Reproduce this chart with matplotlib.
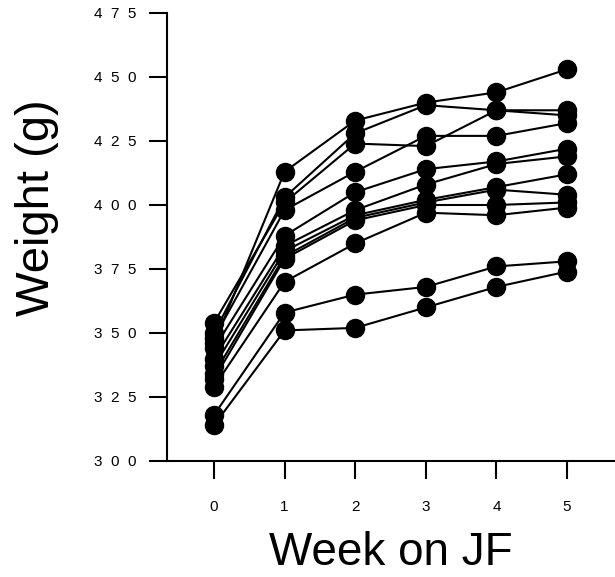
import matplotlib
matplotlib.use("Agg")
import matplotlib.pyplot as plt

# %% data
weeks = [0, 1, 2, 3, 4, 5]
rat_weights = [
    [346, 413, 433, 440, 444, 453],
    [350, 403, 428, 439, 437, 437],
    [354, 401, 424, 423, 437, 435],
    [348, 398, 413, 427, 427, 432],
    [344, 388, 405, 414, 417, 422],
    [340, 384, 398, 408, 416, 419],
    [337, 382, 396, 402, 407, 412],
    [334, 380, 395, 401, 406, 404],
    [332, 379, 394, 400, 400, 401],
    [329, 370, 385, 397, 396, 399],
    [318, 358, 365, 368, 376, 378],
    [314, 351, 352, 360, 368, 374],
]
y_ticks = [300, 325, 350, 375, 400, 425, 450, 475]
y_ticklabels = ["  ".join(str(t)) for t in y_ticks]

# %% plot
plt.rcParams["font.family"] = ["Liberation Sans", "DejaVu Sans"]

fig = plt.figure(figsize=(6.15, 5.77), dpi=100)
ax = fig.add_axes([167/615, (577-461)/577, (615-167)/615, (461-13)/577])

for w in rat_weights:
    ax.plot(weeks, w, color="black", lw=1.5, marker="o", ms=13,
            mfc="black", mec="black", clip_on=False, zorder=3)

ax.set_xlim(-0.666, 5.68)
ax.set_ylim(300, 475)

ax.set_xticks(weeks)
ax.set_xticklabels([str(w) for w in weeks])
ax.set_yticks(y_ticks)
ax.set_yticklabels(y_ticklabels)

ax.spines["top"].set_visible(False)
ax.spines["right"].set_visible(False)
ax.spines["left"].set_linewidth(1.5)
ax.spines["bottom"].set_linewidth(1.5)

ax.tick_params(axis="both", direction="out", length=13, width=1.5, labelsize=11)
ax.tick_params(axis="x", pad=15)
ax.tick_params(axis="y", pad=9)

ax.set_xlabel("Week on JF", fontsize=33, va="baseline")
ax.set_ylabel("Weight (g)", fontsize=34, va="center")
ax.xaxis.set_label_coords(0.5, (461-565)/448)
ax.yaxis.set_label_coords((37-167)/448, (461-208)/448)

plt.savefig("out.png", dpi=100)
